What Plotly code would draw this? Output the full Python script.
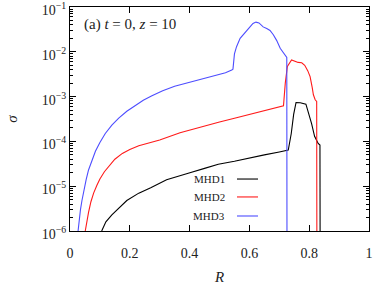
import plotly.graph_objects as go

# MHD1 (black)
r_mhd1 = [0.106, 0.12, 0.14, 0.165, 0.19, 0.23, 0.27, 0.323, 0.37, 0.401, 0.45, 0.496, 0.55, 0.6, 0.65, 0.7, 0.73,
          0.74, 0.748, 0.756, 0.77, 0.789, 0.8, 0.808, 0.818, 0.825, 0.83, 0.836, 0.837]
s_mhd1 = [1e-6, 1.6e-6, 2.3e-6, 3.4e-6, 4.8e-6, 7e-6, 9.2e-6, 1.4e-5, 1.7e-5, 2.0e-5, 2.5e-5, 3.1e-5, 3.6e-5, 4.3e-5, 5e-5,
          5.8e-5, 6.4e-5, 1.5e-4, 4e-4, 7.4e-4, 7.3e-4, 6.8e-4, 4e-4, 2.5e-4, 1.3e-4, 1e-4, 9e-5, 8.3e-5, 1e-8]

# MHD2 (red)
r_mhd2 = [0.051, 0.056, 0.062, 0.07, 0.079, 0.09, 0.1, 0.115, 0.13, 0.15, 0.175, 0.2, 0.23, 0.265, 0.3, 0.368, 0.435, 0.5,
          0.55, 0.6, 0.65, 0.714, 0.72, 0.727, 0.741, 0.752, 0.763, 0.775, 0.785, 0.795, 0.803, 0.81, 0.814, 0.82,
          0.825, 0.826]
s_mhd2 = [1e-6, 1.6e-6, 2.6e-6, 4.5e-6, 7e-6, 1.05e-5, 1.45e-5, 2.1e-5, 2.8e-5, 4e-5, 5.4e-5, 6.6e-5, 8e-5, 9.3e-5, 1.07e-4,
          1.56e-4, 2.1e-4, 2.7e-4, 3.3e-4, 4e-4, 4.8e-4, 6.2e-4, 2e-3, 4.7e-3, 6.6e-3, 6.2e-3, 5.8e-3, 5.7e-3, 5e-3, 3.8e-3,
          2.8e-3, 1.6e-3, 1.1e-3, 8.5e-4, 7.8e-4, 1e-8]

# MHD3 (blue)
r_mhd3 = [0.027, 0.031, 0.035, 0.04, 0.046, 0.054, 0.062, 0.072, 0.085, 0.1, 0.118, 0.14, 0.163, 0.19, 0.218, 0.245, 0.274,
          0.31, 0.35, 0.39, 0.435, 0.48, 0.52, 0.541, 0.545, 0.55, 0.557, 0.569, 0.585, 0.602, 0.612, 0.622, 0.632, 0.646,
          0.658, 0.669, 0.68, 0.691, 0.703, 0.714, 0.722, 0.725, 0.726]
s_mhd3 = [1e-6, 1.9e-6, 3e-6, 4.8e-6, 8.3e-6, 1.4e-5, 2.3e-5, 3.6e-5, 6e-5, 9.5e-5, 1.5e-4, 2.3e-4, 3.3e-4, 4.7e-4, 6.4e-4,
          8.3e-4, 1.04e-3, 1.35e-3, 1.7e-3, 2.0e-3, 2.5e-3, 2.9e-3, 3.4e-3, 3.9e-3, 4.1e-3, 9e-3, 1.3e-2, 2e-2, 2.6e-2,
          3.6e-2, 4.3e-2, 4.6e-2, 4.4e-2, 3.6e-2, 3.3e-2, 3.0e-2, 2.4e-2, 1.8e-2, 1.2e-2, 9.3e-3, 7.8e-3, 7.5e-3, 1e-8]

names = ["MHD1", "MHD2", "MHD3"]
colors = ["#000000", "#ff1a1a", "#4d4dff"]
x_ticks = [0, 0.2, 0.4, 0.6, 0.8, 1]
x_tick_labels = ["0", "0.2", "0.4", "0.6", "0.8", "1"]
y_ticks = [1e-6, 1e-5, 1e-4, 1e-3, 1e-2, 1e-1]
y_tick_labels = ["10<sup>−6</sup>", "10<sup>−5</sup>", "10<sup>−4</sup>",
                 "10<sup>−3</sup>", "10<sup>−2</sup>", "10<sup>−1</sup>"]

FONT = "Times New Roman, Liberation Serif, DejaVu Serif, serif"

fig = go.Figure()
for r, s, n, c in zip([r_mhd1, r_mhd2, r_mhd3], [s_mhd1, s_mhd2, s_mhd3], names, colors):
    fig.add_trace(go.Scatter(x=r, y=s, mode="lines", name=n,
                             line=dict(color=c, width=1.1), showlegend=False))

# gnuplot-style key: text then line sample
key_y = [0.232, 0.152, 0.067]
for n, c, ky in zip(names, colors, key_y):
    fig.add_annotation(x=0.525, y=ky, xref="paper", yref="paper", text=n, showarrow=False,
                       xanchor="right", yanchor="middle", font=dict(family=FONT, size=11, color="#222"))
    fig.add_shape(type="line", xref="paper", yref="paper", x0=0.5585, x1=0.6288, y0=ky, y1=ky,
                  line=dict(color=c, width=1.1))

fig.add_annotation(x=0.04, y=0.92, xref="paper", yref="paper",
                   text="(a) <i>t</i> = 0, <i>z</i> = 10", showarrow=False,
                   xanchor="left", yanchor="middle", font=dict(family=FONT, size=15, color="#222"))

fig.update_layout(
    width=374, height=285,
    margin=dict(l=70, r=5, t=7, b=54),
    paper_bgcolor="white", plot_bgcolor="white",
    font=dict(family=FONT, size=14, color="#222"),
)
fig.update_xaxes(
    range=[0, 1], tickvals=x_ticks, ticktext=x_tick_labels,
    ticks="inside", ticklen=6, tickcolor="#000", tickwidth=1,
    showline=True, linecolor="#000", linewidth=1.2, mirror="allticks",
    showgrid=False, zeroline=False, ticklabelstandoff=9,
    tickfont=dict(family=FONT, size=14),
    title=dict(text="<i>R</i>", font=dict(family=FONT, size=15), standoff=18),
    automargin=False,
)
fig.update_yaxes(
    type="log", range=[-6, -1], tickvals=y_ticks, ticktext=y_tick_labels,
    ticks="inside", ticklen=6, tickcolor="#000", tickwidth=1,
    minor=dict(ticks="inside", ticklen=3, tickcolor="#000", dtick="D1", showgrid=False),
    showline=True, linecolor="#000", linewidth=1.2, mirror="allticks",
    showgrid=False, zeroline=False, ticklabeloverflow="allow", ticklabelshift=3,
    tickfont=dict(family=FONT, size=14),
    title=dict(text="<i>σ</i>", font=dict(family=FONT, size=15), standoff=20),
    automargin=False,
)

fig.write_html("out.html", config={"displayModeBar": False},
               post_script="document.body.style.margin='0px';")
